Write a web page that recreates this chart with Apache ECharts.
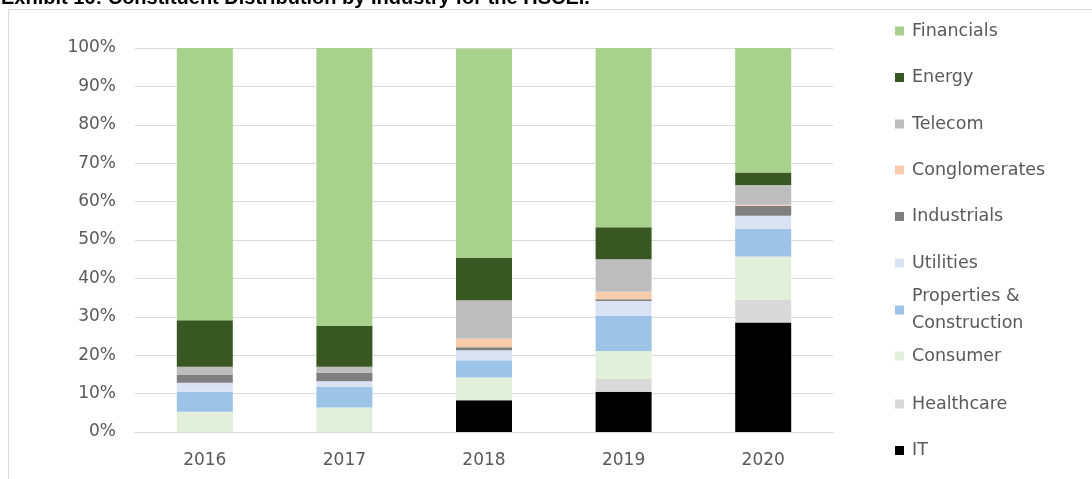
<!DOCTYPE html>
<html>
<head>
<meta charset="utf-8">
<style>
  html, body { margin: 0; padding: 0; background: #fff; }
  #chart { width: 1092px; height: 479px; }
</style>
<script src="https://cdn.jsdelivr.net/npm/echarts@6/dist/echarts.min.js"></script>
</head>
<body>
<div id="chart"></div>
<script>
// Years on the category axis
const years = ['2016', '2017', '2018', '2019', '2020'];

// Share of constituents by industry (%), stacked bottom to top
const it            = [0,    0,    8.3,  10.5, 28.5];
const healthcare    = [0,    0,    0,    3.3,  5.9];
const consumer      = [5.3,  6.4,  5.9,  7.3,  11.3];
const properties    = [5.2,  5.3,  4.5,  9.1,  7.2];
const utilities     = [2.3,  1.5,  2.6,  3.9,  3.4];
const industrials   = [2.2,  2.2,  0.8,  0.5,  2.6];
const conglomerates = [0,    0,    2.2,  1.9,  0.3];
const telecom       = [2.0,  1.6,  10.0, 8.5,  5.1];
const energy        = [12.1, 10.6, 11.0, 8.3,  3.3];
const financials    = [70.9, 72.4, 54.6, 46.7, 32.4];

// Percent ticks on the value axis
const yTicks = [0, 10, 20, 30, 40, 50, 60, 70, 80, 90, 100];

const stackOrder = [
  { name: 'IT', data: it, color: '#000000' },
  { name: 'Healthcare', data: healthcare, color: '#D9D9D9' },
  { name: 'Consumer', data: consumer, color: '#E2EFDA' },
  { name: 'Properties & Construction', data: properties, color: '#9DC3E6' },
  { name: 'Utilities', data: utilities, color: '#DAE3F3' },
  { name: 'Industrials', data: industrials, color: '#7F7F7F' },
  { name: 'Conglomerates', data: conglomerates, color: '#F8CBAD' },
  { name: 'Telecom', data: telecom, color: '#BDBDBD' },
  { name: 'Energy', data: energy, color: '#385723' },
  { name: 'Financials', data: financials, color: '#A9D18E' }
];

// Legend rows, top to bottom, with the vertical centre of each row
const legendRows = [
  ['Financials', 31], ['Energy', 77.5], ['Telecom', 124], ['Conglomerates', 170],
  ['Industrials', 216.5], ['Utilities', 263], ['Properties & Construction', 310],
  ['Consumer', 356], ['Healthcare', 404], ['IT', 450.5]
];

const FONT = '"DejaVu Sans", "Open Sans", sans-serif';
const TEXT_GRAY = '#595959';
const LINE_H = 20;

const legends = legendRows.map(([name, cy]) => {
  const twoLine = name === 'Properties & Construction';
  const lg = {
    show: true,
    data: [name],
    left: 895,
    orient: 'vertical',
    padding: 0,
    itemWidth: 9,
    itemHeight: 9,
    itemGap: 0,
    icon: 'rect',
    selectedMode: false,
    textStyle: {
      fontFamily: FONT,
      fontSize: 17.5,
      color: TEXT_GRAY,
      lineHeight: twoLine ? 27 : LINE_H,
      padding: [0, 0, 0, 3]
    }
  };
  if (twoLine) {
    lg.formatter = () => 'Properties &\nConstruction';
    lg.textStyle.padding = [27, 0, 0, 3];
    lg.top = cy - 40.5;
  } else {
    lg.top = cy - LINE_H / 2;
  }
  return lg;
});

const chart = echarts.init(document.getElementById('chart'), null, { renderer: 'canvas' });

chart.setOption({
  animation: false,
  backgroundColor: '#ffffff',
  title: {
    text: 'Exhibit 16: Constituent Distribution by Industry for the HSCEI.',
    left: 1,
    top: -12,
    padding: 0,
    textStyle: {
      fontFamily: '"Liberation Sans", Arial, sans-serif',
      fontWeight: 'bold',
      fontSize: 20,
      color: '#000000'
    }
  },
  graphic: [{
    type: 'rect',
    shape: { x: 8.5, y: 9.5, width: 1200, height: 600 },
    style: { fill: 'none', stroke: '#D9D9D9', lineWidth: 1 },
    silent: true,
    z: -10
  }],
  legend: legends,
  grid: { left: 135, right: 259, top: 48, bottom: 47 },
  xAxis: {
    type: 'category',
    data: years,
    axisLine: { show: true, lineStyle: { color: '#D9D9D9' } },
    axisTick: { show: false },
    axisLabel: { fontFamily: FONT, fontSize: 17, color: TEXT_GRAY, margin: 20 }
  },
  yAxis: {
    type: 'value',
    min: yTicks[0],
    max: yTicks[yTicks.length - 1],
    interval: yTicks[1] - yTicks[0],
    axisLine: { show: false },
    axisTick: { show: false },
    splitLine: { lineStyle: { color: '#D9D9D9', width: 1 } },
    axisLabel: {
      fontFamily: FONT, fontSize: 17, color: TEXT_GRAY, margin: 19,
      formatter: v => v + '%'
    }
  },
  series: stackOrder.map(s => ({
    name: s.name,
    type: 'bar',
    stack: 'share',
    data: s.data,
    barWidth: 56,
    itemStyle: { color: s.color },
    emphasis: { disabled: true }
  }))
});
</script>
</body>
</html>
